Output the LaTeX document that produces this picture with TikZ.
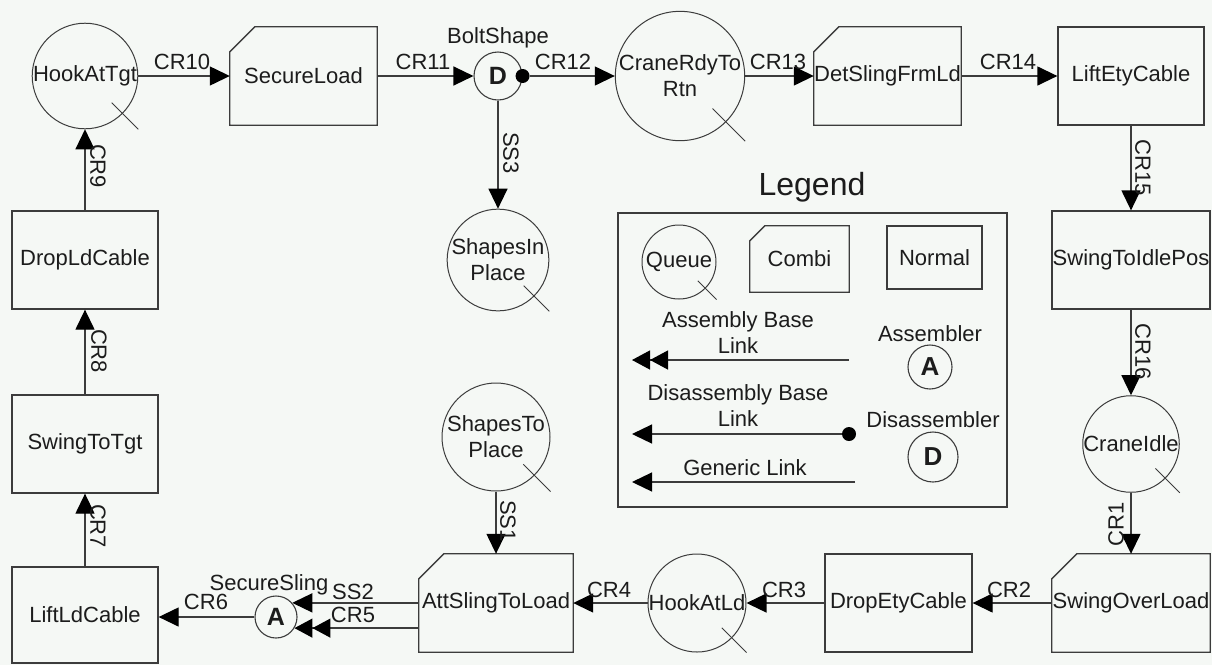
\documentclass[tikz,border=0pt]{standalone}
\usepackage{fontspec}
\setmainfont{Liberation Sans}
\usetikzlibrary{arrows.meta,calc}
\definecolor{paper}{RGB}{245,248,245}
\definecolor{ink}{RGB}{28,28,28}
\definecolor{edge}{RGB}{60,60,60}

\begin{document}
\begin{tikzpicture}[x=1pt,y=-1pt,
  every node/.style={font=\fontsize{22}{26}\selectfont, text=ink, inner sep=0pt, align=center},
  outline/.style={draw=edge, line width=1.3pt},
  normalbox/.style={rectangle, outline},
  combi/.style={rectangle},
  queue/.style={circle, draw=edge, line width=1pt, minimum size=#1},
  joint/.style={circle, draw=edge, line width=1.1pt, minimum size=#1,
    font=\fontsize{25}{25}\selectfont\bfseries},
  dot/.style={circle, fill=black, minimum size=14pt},
  lbl/.style={font=\fontsize{22}{22}\selectfont},
  link/.style={draw=edge, line width=1.3pt, -{Triangle[length=20pt,width=19pt,color=black]}},
  asm/.style={draw=edge, line width=1.3pt,
    -{Triangle[length=18pt,width=19pt,color=black]Triangle[length=18pt,width=19pt,color=black]}}
]
\fill[paper] (0,0) rectangle (1212,665);
\useasboundingbox (0,0) rectangle (1212,665);

% ---- top row
\node[queue=104pt] (hookt) at (85,76) {HookAtTgt};
\node[combi, minimum width=147pt, minimum height=98pt] (sload) at (303.5,76) {SecureLoad};
\node[joint=48pt] (bolt) at (498,76) {D};
\node (boltlbl) at (498,38) {BoltShape};
\node[queue=128pt] (crrtn) at (680,76) {CraneRdyTo\\Rtn};
\node[combi, minimum width=147pt, minimum height=98pt] (det) at (887.5,76) {DetSlingFrmLd};
\node[normalbox, minimum width=146pt, minimum height=98pt] (liftety) at (1131,76) {LiftEtyCable};

% ---- second row
\node[normalbox, minimum width=146pt, minimum height=98pt] (droplc) at (85,260) {DropLdCable};
\node[queue=98pt] (sip) at (498,260) {ShapesIn\\Place};
\node[normalbox, minimum width=158pt, minimum height=98pt] (swidle) at (1131,260) {SwingToIdlePos};

% ---- third row
\node[normalbox, minimum width=146pt, minimum height=98pt] (swtgt) at (85,444) {SwingToTgt};
\node[queue=108pt] (stp) at (496,437) {ShapesTo\\Place};
\node[queue=96pt] (cidle) at (1131,444) {CraneIdle};

% ---- bottom row
\node[normalbox, minimum width=146pt, minimum height=96pt] (liftld) at (85,615) {LiftLdCable};
\node[joint=42pt] (secsl) at (276,617) {A};
\node (secsllbl) at (269,585) {SecureSling};
\node[combi, minimum width=154pt, minimum height=98pt] (att) at (496,603) {AttSlingToLoad};
\node[queue=98pt] (hookld) at (697,603) {HookAtLd};
\node[normalbox, minimum width=147pt, minimum height=98pt] (dety) at (898.5,603) {DropEtyCable};
\node[combi, minimum width=158pt, minimum height=98pt] (swover) at (1131,603) {SwingOverLoad};

% ---- legend
\node[font=\fontsize{32}{38}\selectfont] (legtitle) at (812,187) {Legend};
\node[outline, minimum width=389pt, minimum height=294pt] (legbox) at (812.5,360) {};
\node[queue=74pt] (lq) at (679,262) {Queue};
\node[combi, minimum width=99pt, minimum height=66pt] (lc) at (799.5,259) {Combi};
\node[normalbox, minimum width=95pt, minimum height=63pt] (ln) at (934.5,257.5) {Normal};
\node (lasmtxt) at (738,333) {Assembly Base\\Link};
\coordinate (lasmR) at (849,360);
\coordinate (lasmL) at (632,360);
\node (lasmname) at (930,334) {Assembler};
\node[joint=44pt, font=\fontsize{26}{26}\selectfont\bfseries] (lA) at (930,367) {A};
\node (ldistxt) at (738,406) {Disassembly Base\\Link};
\node[dot] (ldot) at (849,434) {};
\coordinate (ldisL) at (632,434);
\node (ldisname) at (933,420) {Disassembler};
\node[joint=50pt, font=\fontsize{26}{26}\selectfont\bfseries] (lD) at (933,457) {D};
\node (lgentxt) at (745,468) {Generic Link};
\coordinate (lgenR) at (855,482);
\coordinate (lgenL) at (632,482);

% combi outlines: rectangle with a chamfered upper-left corner
\foreach \n/\c in {sload/25,det/25,att/25,swover/25,lc/15}
  \draw[outline] ($(\n.north west)+(0,\c)$) -- ($(\n.north west)+(\c,0)$)
    -- (\n.north east) -- (\n.south east) -- (\n.south west) -- cycle;

% queue marker stroke
\foreach \n in {hookt,crrtn,sip,stp,cidle,hookld,lq}
  \draw[draw=edge, line width=1pt] ($(\n.center)!0.5!(\n.east |- \n.south)$) -- (\n.east |- \n.south);

% ---- links
\draw[link] (cidle) -- (swover);
\draw[link] (swover) -- (dety);
\draw[link] (dety) -- (hookld);
\draw[link] (hookld) -- (att);
\draw[asm] (att.west |- secsl.-31.6) -- (secsl.-31.6);
\draw[link] (att.west |- secsl.41.8) -- (secsl.41.8);
\draw[link] (secsl.west) -- (secsl.west -| liftld.east);
\draw[link] (liftld) -- (swtgt);
\draw[link] (swtgt) -- (droplc);
\draw[link] (droplc) -- (hookt);
\draw[link] (hookt) -- (sload);
\draw[link] (sload) -- (bolt);
\node[dot] (boltdot) at (bolt.east) {};
\draw[link] (boltdot) -- (crrtn);
\draw[link] (crrtn) -- (det);
\draw[link] (det) -- (liftety);
\draw[link] (liftety) -- (swidle);
\draw[link] (swidle) -- (cidle);
\draw[link] (bolt) -- (sip);
\draw[link] (stp) -- (att);

\draw[asm] (lasmR) -- (lasmL);
\draw[link] (ldot) -- (ldisL);
\draw[link] (lgenR) -- (lgenL);

% ---- link labels
\node[lbl] (l10) at (182,62) {CR10};
\node[lbl] (l11) at (423,62) {CR11};
\node[lbl] (l12) at (563,62) {CR12};
\node[lbl] (l13) at (778,62) {CR13};
\node[lbl] (l14) at (1008,62) {CR14};
\node[lbl, rotate=-90] (l15) at (1143,168) {CR15};
\node[lbl, rotate=-90] (l16) at (1143,352) {CR16};
\node[lbl, rotate=90] (l1) at (1116,524) {CR1};
\node[lbl] (l2) at (1009,590) {CR2};
\node[lbl] (l3) at (784,590) {CR3};
\node[lbl] (l4) at (609,590) {CR4};
\node[lbl] (ls2) at (353,592) {SS2};
\node[lbl] (l5) at (353,615) {CR5};
\node[lbl] (l6) at (206,602) {CR6};
\node[lbl, rotate=-90] (l7) at (98,526) {CR7};
\node[lbl, rotate=-90] (l8) at (99,351) {CR8};
\node[lbl, rotate=-90] (l9) at (98,166) {CR9};
\node[lbl, rotate=-90] (ls3) at (511,153) {SS3};
\node[lbl, rotate=-90] (ls1) at (508,521) {SS1};
\end{tikzpicture}
\end{document}
